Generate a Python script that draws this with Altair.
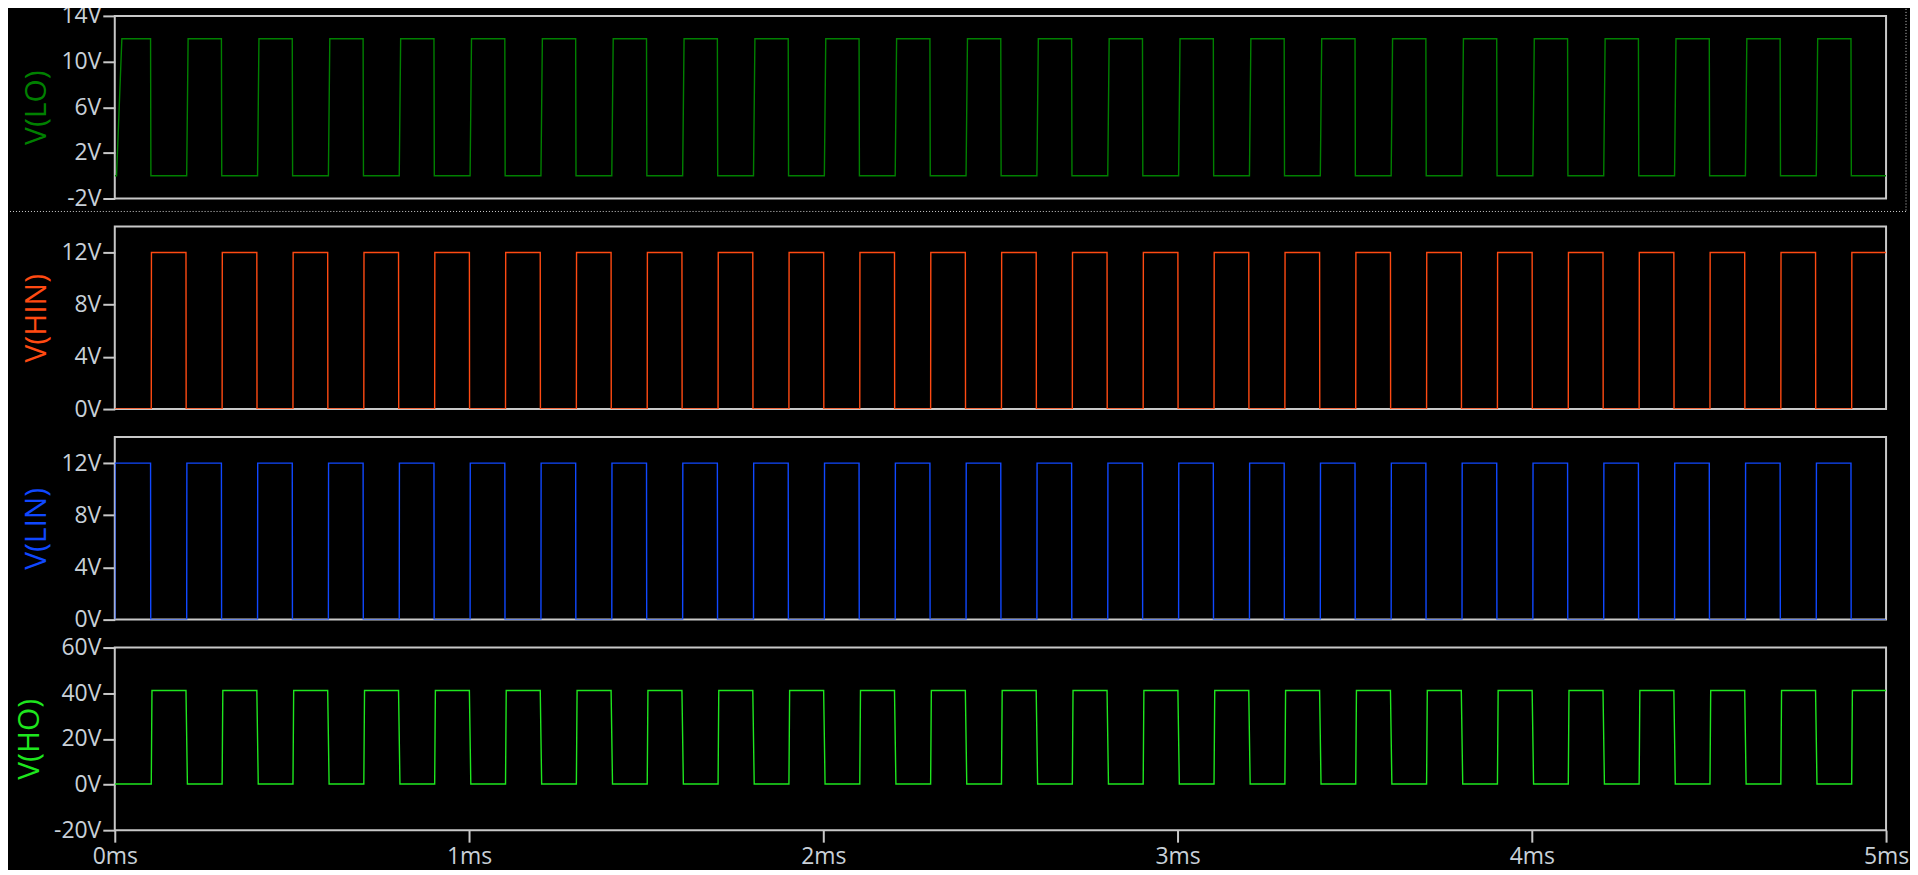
import altair as alt
import pandas as pd

# ---- data (times in ms, levels in V) ----
T_END = 5.0

LO_RISE = [0.005, 0.203, 0.403, 0.603, 0.803, 1.003, 1.203, 1.403, 1.603, 1.803,
           2.003, 2.203, 2.403, 2.603, 2.803, 3.003, 3.203, 3.403, 3.603, 3.803,
           4.003, 4.203, 4.403, 4.603, 4.803]
LO_FALL = [0.101, 0.301, 0.501, 0.701, 0.901, 1.101, 1.301, 1.501, 1.701, 1.901,
           2.101, 2.301, 2.501, 2.701, 2.901, 3.101, 3.301, 3.501, 3.701, 3.901,
           4.101, 4.301, 4.501, 4.701, 4.901]
LO_RISE_TIME = [0.015, 0.004]   # first edge, later edges
LO_LEVELS = [0.0, 12.0]

HIN_RISE = [0.103, 0.303, 0.503, 0.703, 0.903, 1.103, 1.303, 1.503, 1.703, 1.903,
            2.103, 2.303, 2.503, 2.703, 2.903, 3.103, 3.303, 3.503, 3.703, 3.903,
            4.103, 4.303, 4.503, 4.703, 4.903]
HIN_FALL = [0.201, 0.401, 0.601, 0.801, 1.001, 1.201, 1.401, 1.601, 1.801, 2.001,
            2.201, 2.401, 2.601, 2.801, 3.001, 3.201, 3.401, 3.601, 3.801, 4.001,
            4.201, 4.401, 4.601, 4.801]
HIN_LEVELS = [0.0, 12.0]

LIN_RISE = [0.0, 0.203, 0.403, 0.603, 0.803, 1.003, 1.203, 1.403, 1.603, 1.803,
            2.003, 2.203, 2.403, 2.603, 2.803, 3.003, 3.203, 3.403, 3.603, 3.803,
            4.003, 4.203, 4.403, 4.603, 4.803]
LIN_FALL = [0.101, 0.301, 0.501, 0.701, 0.901, 1.101, 1.301, 1.501, 1.701, 1.901,
            2.101, 2.301, 2.501, 2.701, 2.901, 3.101, 3.301, 3.501, 3.701, 3.901,
            4.101, 4.301, 4.501, 4.701, 4.901]
LIN_LEVELS = [0.0, 12.0]

HO_RISE = [0.103, 0.303, 0.503, 0.703, 0.903, 1.103, 1.303, 1.503, 1.703, 1.903,
           2.103, 2.303, 2.503, 2.703, 2.903, 3.103, 3.303, 3.503, 3.703, 3.903,
           4.103, 4.303, 4.503, 4.703, 4.903]
HO_FALL = [0.201, 0.401, 0.601, 0.801, 1.001, 1.201, 1.401, 1.601, 1.801, 2.001,
           2.201, 2.401, 2.601, 2.801, 3.001, 3.201, 3.401, 3.601, 3.801, 4.001,
           4.201, 4.401, 4.601, 4.801]
HO_LEVELS = [0.2, 41.2]

X_TICKS = [0, 1, 2, 3, 4, 5]
LO_TICKS = [-2, 2, 6, 10, 14]
IN_TICKS = [0, 4, 8, 12]
HO_TICKS = [-20, 0, 20, 40, 60]


def step_table(rises, falls, levels, rise_dt=(0.0005, 0.0005), fall_dt=0.0005):
    lo, hi = levels
    edges = [(t, "r") for t in rises] + [(t, "f") for t in falls]
    edges.sort()
    first = edges[0][1]
    state = lo if first == "r" else hi
    pts = [(0.0, state)]
    for i, (t, kind) in enumerate(edges):
        if kind == "r":
            dt = rise_dt[0] if i == 0 else rise_dt[1]
            pts.append((t, lo))
            pts.append((t + dt, hi))
            state = hi
        else:
            pts.append((t, hi))
            pts.append((t + fall_dt, lo))
            state = lo
    pts.append((T_END, state))
    return pd.DataFrame({"t": [p[0] for p in pts], "v": [p[1] for p in pts],
                         "i": list(range(len(pts)))})


lo_df = step_table(LO_RISE, LO_FALL, LO_LEVELS, rise_dt=LO_RISE_TIME, fall_dt=0.001)
hin_df = step_table(HIN_RISE, HIN_FALL, HIN_LEVELS)
lin_df = step_table(LIN_RISE, LIN_FALL, LIN_LEVELS)
ho_df = step_table(HO_RISE, HO_FALL, HO_LEVELS, rise_dt=(0.002, 0.002), fall_dt=0.004)

FONT = "Open Sans"
GRID_GRAY = "#c8c8c8"
LABEL_GRAY = "#c8d0d8"
PW, PH = 1775, 183


def panel(df, color, title, domain, ticks, show_x):
    if show_x:
        xaxis = alt.Axis(values=X_TICKS, labelExpr="datum.value + 'ms'", title=None,
                         grid=False, domain=False, tickSize=12, tickWidth=2,
                         tickColor=GRID_GRAY, labelColor=LABEL_GRAY, labelFont=FONT,
                         labelFontSize=23, labelPadding=3, labelFlush=False)
    else:
        xaxis = None
    return alt.Chart(df).mark_line(color=color, strokeWidth=1.4, clip=True).encode(
        x=alt.X("t:Q", scale=alt.Scale(domain=[0, T_END], nice=False, zero=False), axis=xaxis),
        y=alt.Y("v:Q", scale=alt.Scale(domain=domain, nice=False, zero=False),
                axis=alt.Axis(values=ticks, labelExpr="datum.value + 'V'", title=title,
                              grid=False, domain=False, tickSize=12, tickWidth=2,
                              tickColor=GRID_GRAY, labelColor=LABEL_GRAY, labelFont=FONT,
                              labelFontSize=23, labelPadding=2, titleColor=color,
                              titleFont=FONT, titleFontSize=30, titleFontWeight="normal",
                              titlePadding=9)),
        order="i:Q",
    ).properties(width=PW, height=PH)


# dotted "selected pane" frame around the top panel (bottom and right edges)
frame_src = alt.Chart(pd.DataFrame({"k": [0]}))
sel_bottom = frame_src.mark_rule(color="#d0d0d0", strokeWidth=1, strokeDash=[1, 2]).encode(
    x=alt.value(-105), x2=alt.value(PW + 20), y=alt.value(PH + 13))
sel_right = frame_src.mark_rule(color="#d0d0d0", strokeWidth=1, strokeDash=[1, 2]).encode(
    x=alt.value(PW + 20), y=alt.value(-7), y2=alt.value(PH + 13))

top = alt.layer(panel(lo_df, "#008000", "V(LO)", [-2, 14], LO_TICKS, False),
                sel_bottom, sel_right)

chart = alt.vconcat(
    top,
    panel(hin_df, "#ff4a12", "V(HIN)", [0, 14], IN_TICKS, False),
    panel(lin_df, "#1048ff", "V(LIN)", [0, 14], IN_TICKS, False),
    panel(ho_df, "#1ee61e", "V(HO)", [-20, 60], HO_TICKS, True),
    spacing=28,
    bounds="flush",
).properties(
    background="black",
    padding={"left": 0, "top": -5, "right": 0, "bottom": 0},
).configure_view(
    stroke=GRID_GRAY, strokeWidth=2, fill="black"
)

chart.save("out.html", embed_options={"renderer": "svg", "actions": False})
